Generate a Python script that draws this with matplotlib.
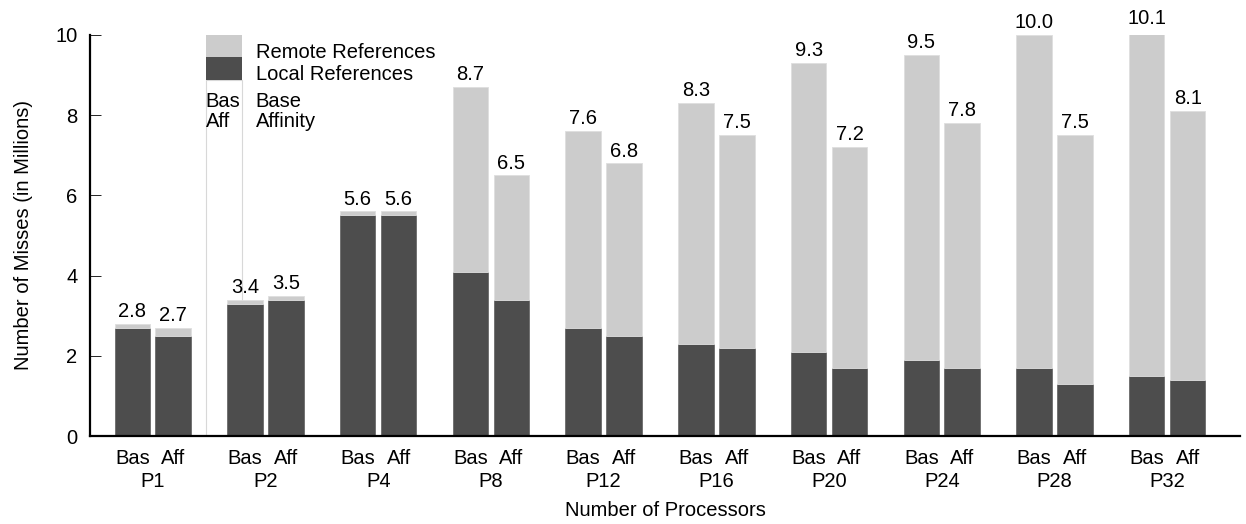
import matplotlib.pyplot as plt
import numpy as np

plt.rcParams['font.family'] = ['Liberation Sans', 'DejaVu Sans']

# cache misses per processor count, in millions
procs = ['P1', 'P2', 'P4', 'P8', 'P12', 'P16', 'P20', 'P24', 'P28', 'P32']
base_total = [2.8, 3.4, 5.6, 8.7, 7.6, 8.3, 9.3, 9.5, 10.0, 10.1]
base_local = [2.7, 3.3, 5.5, 4.1, 2.7, 2.3, 2.1, 1.9, 1.7, 1.5]
aff_total = [2.7, 3.5, 5.6, 6.5, 6.8, 7.5, 7.2, 7.8, 7.5, 8.1]
aff_local = [2.5, 3.4, 5.5, 3.4, 2.5, 2.2, 1.7, 1.7, 1.3, 1.4]

DARK = '#4d4d4d'
LIGHT = '#cccccc'
FS = 14.5
width = 0.315
off = 0.1815

fig = plt.figure(figsize=(12.46, 5.24), dpi=100)
ax = fig.add_axes([90 / 1246, 88 / 524, 1150 / 1246, 401 / 524])

x = np.arange(len(procs))
for xs, tot, loc in [(x - off, base_total, base_local), (x + off, aff_total, aff_local)]:
    tot = np.array(tot)
    loc = np.array(loc)
    ax.bar(xs, loc, width, color=DARK, edgecolor='#6a6a6a', linewidth=0.6, zorder=2)
    ax.bar(xs, tot - loc, width, bottom=loc, color=LIGHT, edgecolor='#dedede',
           linewidth=0.6, zorder=2)
    for xi, t in zip(xs, tot):
        ax.text(xi, t + 0.07, f'{t:.1f}', ha='center', va='bottom', fontsize=FS,
                zorder=3, clip_on=False)

# legend drawn by hand inside the plot area
lx0, lx1 = 0.469, 0.788
ax.add_patch(plt.Rectangle((lx0, 0), lx1 - lx0, 8.88, facecolor='white',
                           edgecolor='#d8d8d8', linewidth=0.8, zorder=1))
ax.add_patch(plt.Rectangle((lx0, 9.45), lx1 - lx0, 0.55, facecolor=LIGHT,
                           edgecolor='none', zorder=1))
ax.add_patch(plt.Rectangle((lx0, 8.88), lx1 - lx0, 0.57, facecolor=DARK,
                           edgecolor='none', zorder=1))
ax.text(0.912, 9.43, 'Remote References', va='baseline', fontsize=FS)
ax.text(0.912, 8.88, 'Local References', va='baseline', fontsize=FS)
ax.text(0.912, 8.20, 'Base', va='baseline', fontsize=FS)
ax.text(0.912, 7.71, 'Affinity', va='baseline', fontsize=FS)
ax.text(0.469, 8.20, 'Bas', va='baseline', fontsize=FS)
ax.text(0.469, 7.71, 'Aff', va='baseline', fontsize=FS)

ax.set_xlim(-0.557, 9.646)
ax.set_ylim(0, 10)
ax.set_yticks([0, 2, 4, 6, 8, 10])
ax.tick_params(axis='y', direction='in', length=8, width=0.6, labelsize=FS, pad=9)

# Bas / Aff under each bar, processor count below
ax.set_xticks(np.concatenate([x - off, x + off]), minor=True)
ax.set_xticklabels(['Bas'] * len(procs) + ['Aff'] * len(procs), minor=True)
ax.set_xticks(x)
ax.set_xticklabels(procs)
ax.tick_params(axis='x', which='minor', length=0, labelsize=FS, pad=9.5)
ax.tick_params(axis='x', which='major', length=0, labelsize=FS, pad=26)

for s in ['top', 'right']:
    ax.spines[s].set_visible(False)
ax.spines['left'].set_linewidth(1.6)
ax.spines['bottom'].set_linewidth(1.6)

ax.set_ylabel('Number of Misses (in Millions)', fontsize=FS, labelpad=16)
ax.set_xlabel('Number of Processors', fontsize=FS, labelpad=7)

fig.savefig('out.png', dpi=100)
